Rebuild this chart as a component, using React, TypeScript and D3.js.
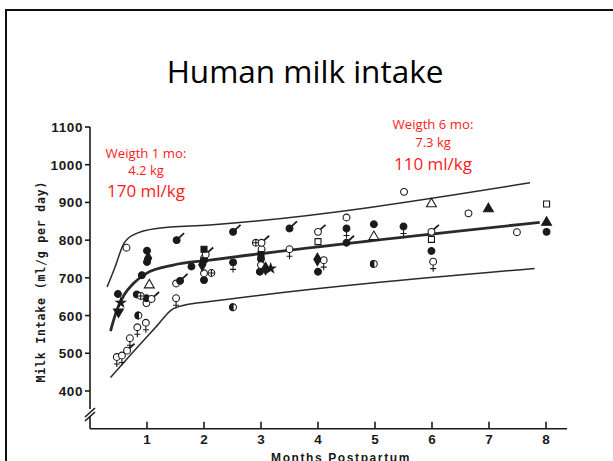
import * as d3 from "d3";

// months postpartum / milk intake (g per day)
const monthTicks = [1, 2, 3, 4, 5, 6, 7, 8];
const intakeTicks = [400, 500, 600, 700, 800, 900, 1000, 1100];

const upperCurve: [number, number][] = [
  [0.3, 676], [0.44, 729], [0.58, 787], [0.76, 814], [1.17, 831], [2.1, 840], [7.72, 952],
];
const meanCurve: [number, number][] = [
  [0.36, 559], [0.47, 614], [0.6, 655], [0.76, 685], [0.99, 712], [1.46, 734], [2.1, 747], [7.89, 847],
];
const lowerCurve: [number, number][] = [
  [0.36, 436], [0.76, 504], [1.17, 572], [1.43, 615], [1.67, 628], [2.1, 637], [7.8, 725],
];

const openCircle: [number, number][] = [
  [0.64, 780], [0.99, 633], [1.51, 685], [2.0, 752], [3.01, 776], [4.5, 860], [5.51, 928], [6.64, 871], [7.49, 821],
];
const filledCircle: [number, number][] = [
  [1.0, 772], [1.0, 742], [0.91, 707], [0.49, 657], [0.82, 656], [0.99, 646], [1.78, 730], [2.0, 746],
  [2.0, 694], [3.0, 750], [2.98, 716], [4.0, 716], [4.98, 842], [5.99, 771], [8.01, 822],
];
const halfCircle: [number, number][] = [[0.85, 600], [2.51, 622], [4.98, 737]];
const circlePlus: [number, number][] = [[0.89, 652], [2.13, 713], [2.91, 793]];
const maleFilled: [number, number][] = [[1.52, 800], [1.58, 692], [2.51, 822], [3.5, 831], [4.5, 793]];
const maleOpen: [number, number][] = [[0.65, 507], [1.08, 644], [2.03, 762], [3.01, 793], [4.0, 822], [5.99, 822]];
const femaleOpen: [number, number][] = [
  [0.47, 490], [0.56, 494], [0.7, 540], [0.83, 569], [0.98, 581], [1.51, 646], [2.0, 712], [3.0, 734],
  [3.5, 776], [4.1, 747], [6.02, 743],
];
const femaleFilled: [number, number][] = [[2.51, 741], [4.5, 831], [5.5, 836]];
const openTriangle: [number, number][] = [[1.04, 681], [4.98, 809], [5.99, 896]];
const filledTriangle: [number, number][] = [[6.99, 883], [8.01, 847]];
const downTriangle: [number, number][] = [[0.5, 610]];
const openSquare: [number, number][] = [[4.0, 796], [5.99, 802], [8.01, 896]];
const filledSquare: [number, number][] = [[2.0, 776], [3.0, 762]];
const filledDiamond: [number, number][] = [[1.02, 752], [1.97, 735], [3.08, 725], [3.99, 749]];
const filledStar: [number, number][] = [[0.54, 634], [3.17, 725]];

const INK = "#1a1a1a";
const R = 3.4;

export default function App() {
  const width = 613;
  const height = 461;

  const x = d3.scaleLinear().domain([0, 8]).range([90, 546]);
  const y = d3.scaleLinear().domain([300, 1100]).range([428.7, 127]);

  const line = d3
    .line<[number, number]>()
    .x((d) => x(d[0]))
    .y((d) => y(d[1]))
    .curve(d3.curveMonotoneX);

  const sym = (type: d3.SymbolType, size: number) => d3.symbol().type(type).size(size)() || "";
  const tri = sym(d3.symbolTriangle, 42);
  const sq = sym(d3.symbolSquare, 36);
  const dia = sym(d3.symbolDiamond, 44);
  const star = sym(d3.symbolStar, 26);

  const pos = (d: [number, number]) => `translate(${x(d[0])},${y(d[1])})`;

  const xAxisEnd = x(8.37);
  const breakY = 412;

  return (
    <svg
      width={width}
      height={height}
      style={{ position: "absolute", left: 0, top: 0, background: "#fff" }}
    >
      {/* slide frame */}
      <rect x={6} y={10} width={640} height={480} fill="none" stroke="#111" strokeWidth={2} />

      <text x={305} y={83} textAnchor="middle" fontFamily="Open Sans" fontSize={31.5} fill="#000">
        Human milk intake
      </text>

      {/* axes */}
      <g stroke={INK} strokeWidth={1.6} fill="none">
        <line x1={x(0)} x2={x(0)} y1={y(1100)} y2={breakY - 3} />
        <line x1={x(0)} x2={x(0)} y1={breakY + 4} y2={y(300)} />
        <path d={`M${x(0) - 5},${breakY + 5} L${x(0) + 5},${breakY - 4}`} />
        <path d={`M${x(0) - 5},${breakY + 9} L${x(0) + 5},${breakY}`} />
        <line x1={x(0)} x2={xAxisEnd} y1={y(300)} y2={y(300)} />
        {intakeTicks.map((t) => (
          <line key={t} x1={x(0) - 5} x2={x(0)} y1={y(t)} y2={y(t)} />
        ))}
        {monthTicks.map((t) => (
          <line key={t} x1={x(t)} x2={x(t)} y1={y(300)} y2={y(300) - 7} />
        ))}
      </g>
      <g fontFamily="Liberation Sans" fontWeight="bold" fontSize={13.5} fill={INK}>
        {intakeTicks.map((t) => (
          <text key={t} x={x(0) - 7} y={y(t) + 5} textAnchor="end" letterSpacing={0.6}>
            {t}
          </text>
        ))}
        {monthTicks.map((t) => (
          <text key={t} x={x(t)} y={y(300) + 15} textAnchor="middle">
            {t}
          </text>
        ))}
      </g>
      <text
        x={341}
        y={462}
        textAnchor="middle"
        fontFamily="Liberation Sans"
        fontWeight="bold"
        fontSize={12}
        letterSpacing={1.6}
        fill={INK}
      >
        Months Postpartum
      </text>
      <text
        transform="translate(45,282) rotate(-90)"
        textAnchor="middle"
        fontFamily="DejaVu Sans Mono"
        fontWeight="bold"
        fontSize={11.5}
        textLength={201}
        lengthAdjust="spacing"
        fill={INK}
      >
        Milk Intake (ml/g per day)
      </text>

      {/* curves */}
      <g fill="none" stroke="#2a2a2a">
        <path d={line(upperCurve) || ""} strokeWidth={1.5} />
        <path d={line(lowerCurve) || ""} strokeWidth={1.5} />
        <path d={line(meanCurve) || ""} strokeWidth={2.8} />
      </g>

      {/* data points */}
      <g stroke={INK} strokeWidth={1.1}>
        {openCircle.map((d, i) => (
          <circle key={"oc" + i} transform={pos(d)} r={R} fill="#fff" />
        ))}
        {filledCircle.map((d, i) => (
          <circle key={"fc" + i} transform={pos(d)} r={R} fill={INK} />
        ))}
        {halfCircle.map((d, i) => (
          <g key={"hc" + i} transform={pos(d)}>
            <circle r={R} fill="#fff" />
            <path d={`M0,${-R} A${R},${R} 0 0 0 0,${R} Z`} fill={INK} />
          </g>
        ))}
        {circlePlus.map((d, i) => (
          <g key={"cp" + i} transform={pos(d)}>
            <circle r={R} fill="#fff" />
            <path d={`M${-R},0 H${R} M0,${-R} V${R}`} />
          </g>
        ))}
        {maleFilled.map((d, i) => (
          <g key={"mf" + i} transform={pos(d)}>
            <circle r={R} fill={INK} />
            <path d="M2,-2 L7.5,-7" strokeWidth={1.8} />
          </g>
        ))}
        {maleOpen.map((d, i) => (
          <g key={"mo" + i} transform={pos(d)}>
            <circle r={R} fill="#fff" />
            <path d="M2.4,-2.4 L7.5,-7" strokeWidth={1.8} />
          </g>
        ))}
        {femaleOpen.map((d, i) => (
          <g key={"fo" + i} transform={pos(d)}>
            <circle r={R} fill="#fff" />
            <path d={`M0,${R} V10 M-3,7 H3`} />
          </g>
        ))}
        {femaleFilled.map((d, i) => (
          <g key={"ff" + i} transform={pos(d)}>
            <circle r={R} fill={INK} />
            <path d={`M0,${R} V10 M-3,7 H3`} />
          </g>
        ))}
        {openTriangle.map((d, i) => (
          <path key={"ot" + i} transform={pos(d)} d={tri} fill="#fff" />
        ))}
        {filledTriangle.map((d, i) => (
          <path key={"ft" + i} transform={pos(d)} d={tri} fill={INK} />
        ))}
        {downTriangle.map((d, i) => (
          <path key={"dt" + i} transform={`${pos(d)} rotate(180)`} d={tri} fill={INK} />
        ))}
        {openSquare.map((d, i) => (
          <path key={"os" + i} transform={pos(d)} d={sq} fill="#fff" />
        ))}
        {filledSquare.map((d, i) => (
          <path key={"fs" + i} transform={pos(d)} d={sq} fill={INK} />
        ))}
        {filledDiamond.map((d, i) => (
          <path key={"fd" + i} transform={pos(d)} d={dia} fill={INK} />
        ))}
        {filledStar.map((d, i) => (
          <path key={"st" + i} transform={pos(d)} d={star} fill={INK} />
        ))}
      </g>

      {/* annotations */}
      <g fontFamily="Open Sans" fill="#ff1a1a" textAnchor="middle">
        <text x={146} y={158} fontSize={13.2}>Weigth 1 mo:</text>
        <text x={146} y={175} fontSize={13}>4.2 kg</text>
        <text x={146} y={197} fontSize={17}>170 ml/kg</text>
        <text x={433} y={129} fontSize={13.2}>Weigth 6 mo:</text>
        <text x={433} y={147} fontSize={13}>7.3 kg</text>
        <text x={433} y={170} fontSize={17}>110 ml/kg</text>
      </g>
    </svg>
  );
}
